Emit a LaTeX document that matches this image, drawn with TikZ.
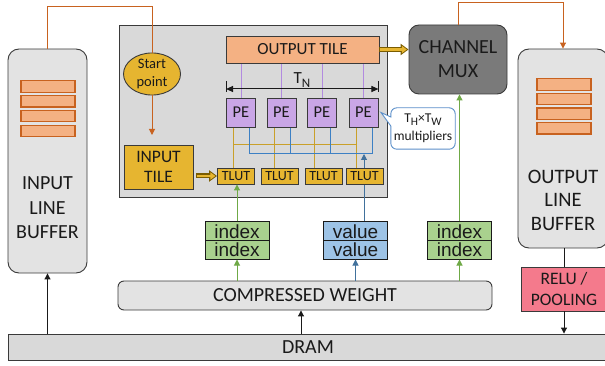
\documentclass[tikz,border=0pt]{standalone}
\usepackage{fontspec}
\setmainfont{Carlito}
\newfontfamily\arialf{Liberation Sans}
\usetikzlibrary{arrows.meta,shapes.geometric}

\definecolor{boxgray}{HTML}{D9D9D9}
\definecolor{bufgray}{HTML}{E3E3E3}
\definecolor{edge}{HTML}{3A3A3A}
\definecolor{peach}{HTML}{F4B183}
\definecolor{rust}{HTML}{C8621F}
\definecolor{gold}{HTML}{E6B530}
\definecolor{goldline}{HTML}{C9A02A}
\definecolor{darkgold}{HTML}{7A5C00}
\definecolor{pefill}{HTML}{C9A6E6}
\definecolor{peline}{HTML}{B28AE0}
\definecolor{bline}{HTML}{3D80C4}
\definecolor{barrow}{HTML}{41719C}
\definecolor{gline}{HTML}{6FA946}
\definecolor{gfill}{HTML}{A9D18E}
\definecolor{bfill}{HTML}{9DC3E6}
\definecolor{muxfill}{HTML}{7A7A7A}
\definecolor{relufill}{HTML}{F47A8C}
\definecolor{callblue}{HTML}{5B8FC9}
\definecolor{ink}{HTML}{1A1A1A}

\pgfdeclarelayer{back}
\pgfdeclarelayer{wires}
\pgfsetlayers{back,wires,main}

\tikzset{
  blk/.style={draw=edge, line width=0.9pt, inner sep=0pt, align=center, text=ink},
  bar/.style={draw=rust, fill=peach, line width=1.2pt, minimum width=54pt,
    minimum height=11.5pt, inner sep=0pt},
  pebox/.style={blk, fill=pefill, minimum width=29pt, minimum height=29pt,
    font=\fontsize{16.5}{16.5}\selectfont},
  tlut/.style={blk, fill=gold, minimum width=37pt, minimum height=16pt,
    font=\fontsize{14}{14}\selectfont},
  half/.style={draw=ink, line width=1pt, inner sep=0pt, minimum width=64pt,
    minimum height=18.5pt, font=\arialf\fontsize{19}{19}\selectfont, text=ink},
  tip/.style={-{Triangle[length=6pt,width=6pt]}},
  oline/.style={draw=rust, line width=1pt},
  kline/.style={draw=ink, line width=1pt},
  gwire/.style={draw=gline, line width=1pt},
  bwire/.style={draw=barrow, line width=1pt},
  plink/.style={draw=peline, line width=1pt},
  glink/.style={draw=goldline, line width=1pt},
  blink/.style={draw=bline, line width=1pt},
  fatout/.style={draw=darkgold, line width=5pt, -{Triangle[length=8pt,width=11pt]}},
  fatin/.style={draw=gold, line width=2.6pt, shorten >=1.7pt, shorten <=0.9pt,
    -{Triangle[length=5pt,width=7pt]}},
}

\begin{document}
\begin{tikzpicture}[x=1pt,y=-1pt]
\useasboundingbox (0,0) rectangle (605,366);

% processing core
\begin{pgfonlayer}{back}
\node[blk, fill=boxgray, minimum width=268pt, minimum height=172pt] (core) at (253,111) {};
\end{pgfonlayer}

% line buffers
\node[blk, fill=bufgray, rounded corners=11pt, minimum width=79pt, minimum height=224pt] (inbuf) at (47.5,161) {};
\node[align=center, text=ink, font=\fontsize{20}{24.5}\selectfont] (inbuftxt) at (47.5,208) {INPUT\\LINE\\BUFFER};
\node[bar] (ib1) at (48,86.5) {};
\node[bar] (ib2) at (48,101.3) {};
\node[bar] (ib3) at (48,116.1) {};
\node[bar] (ib4) at (48,130.9) {};

\node[blk, fill=bufgray, rounded corners=11pt, minimum width=90pt, minimum height=199pt] (outbuf) at (563,148.5) {};
\node[align=center, text=ink, font=\fontsize{20.5}{23.5}\selectfont] (outbuftxt) at (563,200) {OUTPUT\\LINE\\BUFFER};
\node[bar] (ob1) at (564,84.5) {};
\node[bar] (ob2) at (564,99.1) {};
\node[bar] (ob3) at (564,113.7) {};
\node[bar] (ob4) at (564,128.3) {};

\node[blk, fill=relufill, minimum width=86pt, minimum height=44pt,
  font=\fontsize{17.5}{21}\selectfont] (relu) at (564,289) {RELU /\\POOLING};

\node[blk, fill=boxgray, minimum width=600pt, minimum height=26pt,
  font=\fontsize{20}{20}\selectfont] (dram) at (308,347) {DRAM};

\node[blk, fill=bufgray, rounded corners=6pt, minimum width=374pt, minimum height=29pt,
  font=\fontsize{20}{20}\selectfont] (cw) at (305,295.5) {COMPRESSED WEIGHT};

\node[blk, fill=muxfill, rounded corners=10pt, minimum width=98pt, minimum height=69pt,
  font=\fontsize{20}{24}\selectfont] (mux) at (458,59.5) {CHANNEL\\MUX};

% inside the core
\node[blk, fill=peach, minimum width=153pt, minimum height=27pt,
  font=\fontsize{17}{17}\selectfont] (otile) at (302.5,49.5) {OUTPUT TILE};
\node[blk, ellipse, fill=gold, minimum width=57pt, minimum height=40pt,
  font=\fontsize{14.5}{18}\selectfont] (start) at (152,74) {Start\\point};
\node[blk, fill=gold, minimum width=69pt, minimum height=44pt,
  font=\fontsize{17.5}{20}\selectfont] (itile) at (158.5,167) {INPUT\\TILE};

\node[pebox] (pe1) at (241,112.5) {PE};
\node[pebox] (pe2) at (281.5,112.5) {PE};
\node[pebox] (pe3) at (322,112.5) {PE};
\node[pebox] (pe4) at (363.5,112.5) {PE};

\node[tlut] (t1) at (236,176) {TLUT};
\node[tlut] (t2) at (279.5,176) {TLUT};
\node[tlut] (t3) at (323.5,176) {TLUT};
\node[tlut] (t4) at (364.5,176) {TLUT};

% weight fields
\node[half, fill=gfill] (ia) at (237,231.25) {index};
\node[half, fill=gfill] (ib) at (237,249.75) {index};
\node[half, fill=bfill] (va) at (355.5,231.25) {value};
\node[half, fill=bfill] (vb) at (355.5,249.75) {value};
\node[half, fill=gfill] (ja) at (459.5,231.25) {index};
\node[half, fill=gfill] (jb) at (459.5,249.75) {index};

% tile width
\node[text=ink, font=\fontsize{17}{17}\selectfont] (tn) at (302,80)
  {T\raisebox{-0.45ex}{\fontsize{13}{13}\selectfont N}};
\coordinate (tny) at (0,89);
\draw[kline] (pe1.west |- 0,81) -- (pe1.west |- 0,92);
\draw[kline] (pe4.east |- 0,81) -- (pe4.east |- 0,92);
\draw[kline, {Triangle[length=7pt,width=6pt]}-{Triangle[length=7pt,width=6pt]}]
  (pe1.west |- tny) -- (pe4.east |- tny);

% multiplier note
\node[minimum width=64pt, minimum height=41pt, inner sep=0pt] (note) at (423,128.5) {};
\coordinate (notetip) at (381,112.5);
\draw[draw=callblue, line width=0.9pt, fill=white]
  (note.west |- 0,126) -- (notetip) -- (note.west |- 0,117)
  [rounded corners=6pt] -- (note.north west) -- (note.north east)
  -- (note.south east) -- (note.south west) -- (note.west |- 0,126);
\node[text=ink, font=\fontsize{13.5}{13.5}\selectfont] (notea) at (423,120)
  {T\raisebox{-0.45ex}{\fontsize{11.5}{11.5}\selectfont H}×T\raisebox{-0.45ex}{\fontsize{11.5}{11.5}\selectfont W}};
\node[text=ink, font=\fontsize{13.5}{13.5}\selectfont] (noteb) at (423,137) {multipliers};

% PE wiring
\coordinate (gbus) at (0,145);
\coordinate (bbus) at (0,154);
\begin{pgfonlayer}{wires}
\foreach \p in {pe1,pe2,pe3,pe4}
  \draw[plink] (\p.north |- otile.south) -- (\p.north);
\draw[glink] ([xshift=-8pt]pe1.south) -- ([xshift=-8pt]pe1.south |- t1.north);
\draw[glink] ([xshift=-7.5pt]pe2.south) -- ([xshift=-7.5pt]pe2.south |- t2.north);
\draw[glink] ([xshift=-8pt]pe3.south) -- ([xshift=-8pt]pe3.south |- t3.north);
\draw[glink] ([xshift=-7.5pt]pe4.south) -- ([xshift=-7.5pt]pe4.south |- t4.north);
\draw[glink] ([xshift=-8pt]pe1.south |- gbus) -- ([xshift=-7.5pt]pe4.south |- gbus);
\draw[blink] ([xshift=8pt]pe1.south) -- ([xshift=8pt]pe1.south |- bbus)
  -- ([xshift=8.5pt]pe4.south |- bbus) -- ([xshift=8.5pt]pe4.south);
\draw[blink] ([xshift=8.5pt]pe2.south) -- ([xshift=8.5pt]pe2.south |- bbus);
\draw[blink] ([xshift=8pt]pe3.south) -- ([xshift=8pt]pe3.south |- bbus);
\draw[bwire, tip] ([xshift=8.5pt]va.north) -- ([xshift=8.5pt]va.north |- bbus);
\end{pgfonlayer}

% data movement
\coordinate (otop1) at (152,7);
\coordinate (starttip) at (152,135);
\draw[oline] (inbuf.north) |- (otop1) -- (start.north);
\draw[oline, tip] (start.south) -- (starttip);
\coordinate (otop2) at (563,3);
\draw[oline, tip] (mux.north) |- (otop2) -- (outbuf.north);

\draw[fatout] ([xshift=3pt]itile.east |- t1.west) -- (t1.west);
\draw[fatin]  ([xshift=3pt]itile.east |- t1.west) -- (t1.west);
\draw[fatout] (otile.east) -- (mux.west |- otile.east);
\draw[fatin]  (otile.east) -- (mux.west |- otile.east);

\draw[kline, tip] (dram.north -| inbuf.south) -- (inbuf.south);
\draw[kline, tip] (dram.north -| 301,0) -- (cw.south -| 301,0);
\draw[kline] (outbuf.south -| relu.north) -- (relu.north);
\draw[kline, tip] (relu.south) -- (dram.north -| relu.south);

\draw[gwire, tip] (cw.north -| ib.south) -- (ib.south);
\draw[gwire, tip] (ia.north) -- (t1.south -| ia.north);
\draw[bwire, tip] (cw.north -| vb.south) -- (vb.south);
\draw[gwire, tip] (cw.north -| jb.south) -- (jb.south);
\draw[gwire, tip] (ja.north) -- (mux.south -| ja.north);
\end{tikzpicture}
\end{document}
